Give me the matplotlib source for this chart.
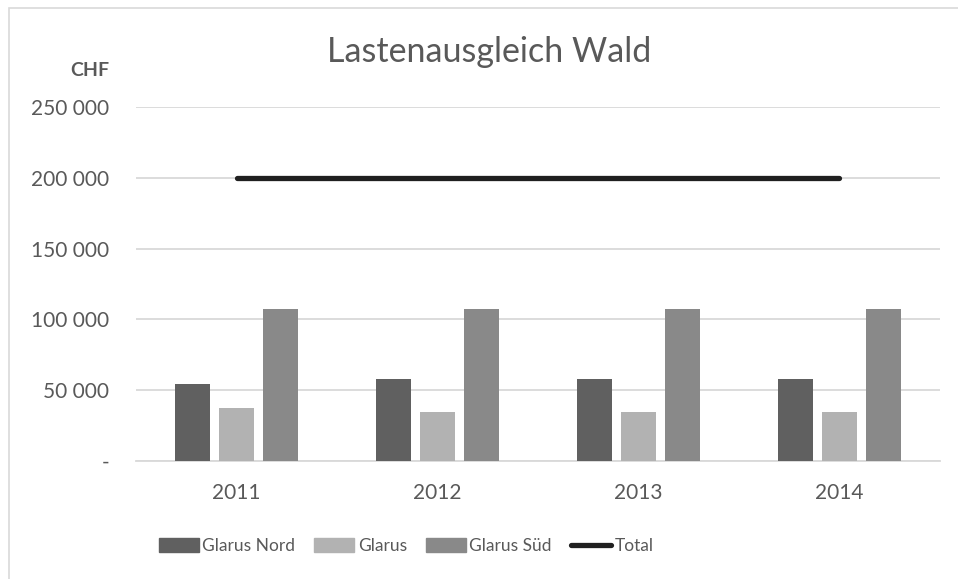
import matplotlib
matplotlib.use("Agg")
import matplotlib.pyplot as plt
import numpy as np
from matplotlib.patches import Rectangle
from matplotlib.lines import Line2D

plt.rcParams['font.family'] = ['Lato', 'DejaVu Sans']

years = ["2011", "2012", "2013", "2014"]
glarus_nord = [54200, 57700, 57700, 57700]
glarus = [37400, 34500, 34500, 34500]
glarus_sued = [107600, 107100, 107100, 107100]
total = [200000, 200000, 200000, 200000]
series_names = ["Glarus Nord", "Glarus", "Glarus Süd", "Total"]
yticks = [0, 50000, 100000, 150000, 200000, 250000]
ytick_labels = ["-", "50 000", "100 000", "150 000", "200 000", "250 000"]

colors = ["#606060", "#B2B2B2", "#898989"]
text_color = "#595959"

W, H = 958, 579
fig = plt.figure(figsize=(W / 100, H / 100), dpi=100)

# outer chart border
fig.patches.append(Rectangle((9 / W, -0.1), 1.2, (H - 8) / H + 0.1, transform=fig.transFigure,
                             fill=False, edgecolor="#D9D9D9", linewidth=1.2))

ax_left, ax_right, ax_top, ax_bottom = 136, 940, 107, 461
ax = fig.add_axes([ax_left / W, 1 - ax_bottom / H, (ax_right - ax_left) / W, (ax_bottom - ax_top) / H])

x = np.arange(len(years))
bw = 0.174
step = 0.221
for i, (vals, c, name) in enumerate(zip([glarus_nord, glarus, glarus_sued], colors, series_names[:3])):
    ax.bar(x + (i - 1) * step, vals, width=bw, color=c, label=name, zorder=3)

ax.plot(x, total, color="#202020", linewidth=3.8, solid_capstyle="round", label="Total", zorder=4)

ax.set_xlim(-0.5, len(years) - 0.5)
ax.set_ylim(0, 250000)
ax.set_yticks(yticks)
ax.set_yticklabels(ytick_labels)
ax.set_xticks(x)
ax.set_xticklabels(years)
ax.grid(axis="y", color="#D9D9D9", linewidth=1.3, zorder=0)
ax.set_axisbelow(True)
for s in ["top", "right", "left"]:
    ax.spines[s].set_visible(False)
ax.spines["bottom"].set_color("#D9D9D9")
ax.spines["bottom"].set_linewidth(1.3)
ax.tick_params(axis="both", length=0, colors=text_color, labelsize=15)
ax.tick_params(axis="y", pad=19.5)
ax.tick_params(axis="x", pad=15.5)

fig.text(109 / W, 1 - 71 / H, "CHF", ha="right", va="center", fontsize=14,
         fontweight="bold", color=text_color)
fig.text(489 / W, 1 - 52 / H, "Lastenausgleich Wald", ha="center", va="center",
         fontsize=24.5, color=text_color)

handles = [Rectangle((0, 0), 1, 1, color=c) for c in colors]
handles.append(Line2D([0], [0], color="#202020", linewidth=3.8, solid_capstyle="round"))
leg = fig.legend(handles, series_names, loc="center", bbox_to_anchor=(406 / W, 1 - 546 / H),
                 ncol=4, frameon=False, fontsize=12.5, labelcolor=text_color,
                 handlelength=2.3, handleheight=0.9, handletextpad=0.2, columnspacing=1.1)

fig.savefig("out.png", dpi=100)
